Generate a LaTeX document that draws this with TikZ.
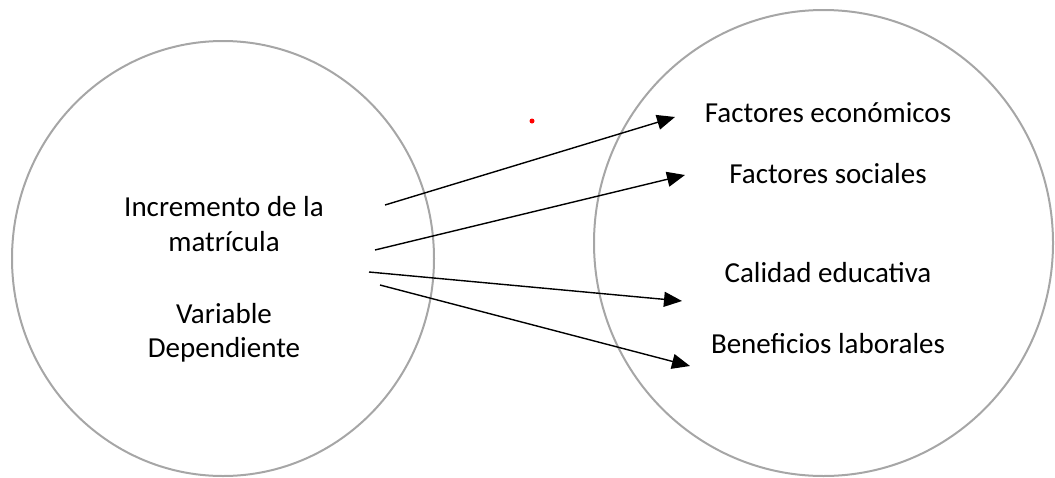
\documentclass[tikz,border=0pt]{standalone}
\usepackage{fontspec}
\setmainfont{Carlito}
\usetikzlibrary{arrows.meta}
\begin{document}
\begin{tikzpicture}[x=1pt, y=-1pt,
    ring/.style = {draw=black!35, line width=2pt},
    txt/.style = {font=\fontsize{29}{35}\selectfont, inner sep=0pt, anchor=base},
    link/.style = {-{Triangle[length=18pt,width=15pt]}, line width=1.4pt}]
    \useasboundingbox (0,0) rectangle (1055,477);
    \draw[ring] (223,258.5) ellipse [x radius=211pt, y radius=217.5pt];
    \draw[ring] (823.5,243) ellipse [x radius=229.5pt, y radius=233pt];
    \fill[red] (532,121) circle (2.5pt);
    % left side
    \node[txt] (inc)  at (224,216) {Incremento de la};
    \node[txt] (mat)  at (224,251) {matrícula};
    \node[txt] (var)  at (224,323) {Variable};
    \node[txt] (dep)  at (224,357) {Dependiente};
    % right side
    \node[txt] (eco)  at (828,122) {Factores económicos};
    \node[txt] (soc)  at (828,183) {Factores sociales};
    \node[txt] (cal)  at (828,282) {Calidad educativa};
    \node[txt] (ben)  at (828,353) {Beneficios laborales};
    \coordinate (s1) at (385,205);
    \coordinate (s2) at (375,250);
    \coordinate (s3) at (369,272);
    \coordinate (s4) at (380,285);
    \coordinate (t1) at (675,117);
    \coordinate (t2) at (685,175);
    \coordinate (t3) at (682,301);
    \coordinate (t4) at (690,366);
    \draw[link] (s1) -- (t1);
    \draw[link] (s2) -- (t2);
    \draw[link] (s3) -- (t3);
    \draw[link] (s4) -- (t4);
\end{tikzpicture}
\end{document}
